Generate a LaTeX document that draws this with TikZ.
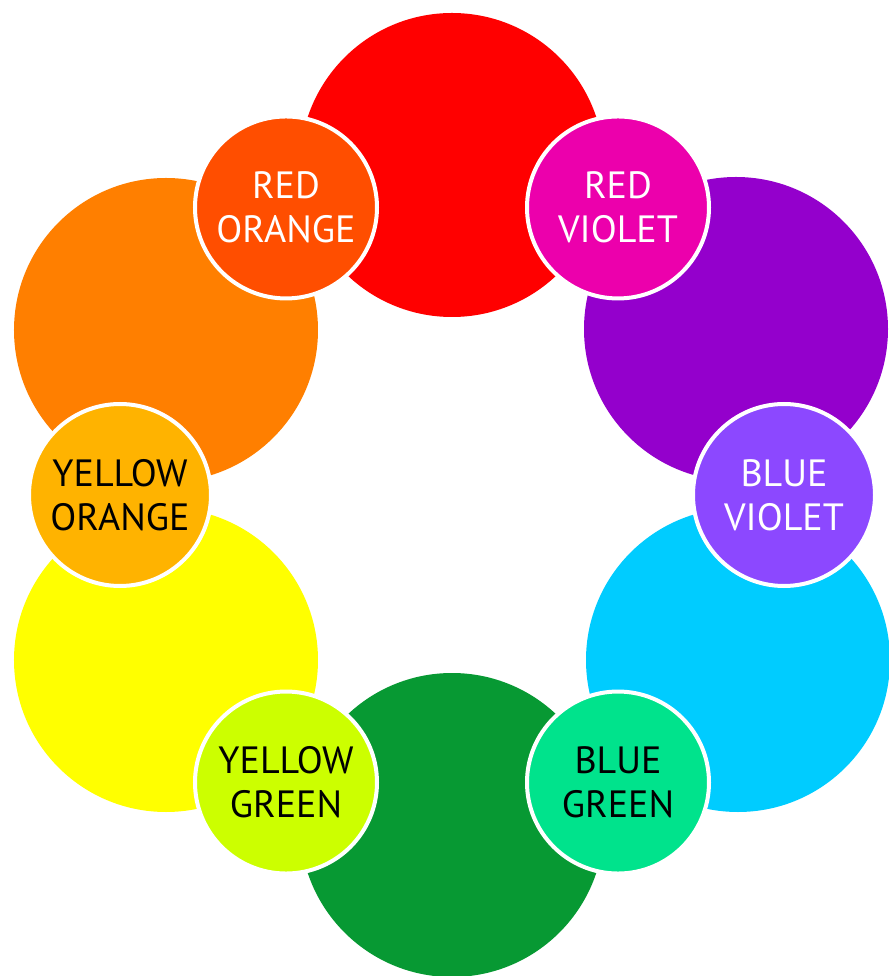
\documentclass[tikz,border=0pt]{standalone}
\usepackage{fontspec}
\setmainfont{PT Sans}
\usepackage{tikz}
\usetikzlibrary{positioning}
\definecolor{cred}{HTML}{FF0000}
\definecolor{corange}{HTML}{FF7F00}
\definecolor{cyellow}{HTML}{FFFF00}
\definecolor{cgreen}{HTML}{079933}
\definecolor{cblue}{HTML}{00CCFF}
\definecolor{cviolet}{HTML}{9400CC}
\definecolor{credorange}{HTML}{FF4E00}
\definecolor{credviolet}{HTML}{EC00AC}
\definecolor{cyelloworange}{HTML}{FFB300}
\definecolor{cblueviolet}{HTML}{8C48FF}
\definecolor{cyellowgreen}{HTML}{CCFF00}
\definecolor{cbluegreen}{HTML}{00E38C}
\tikzset{
  % --- primary / secondary hues ----------------------------------------------
  hue/.style={circle,fill=#1,draw=none,inner sep=0pt,minimum size=304pt},
  % --- tertiary hues, white ring, caption inside ---------------------------
  mix/.style={circle,fill=#1,draw=white,line width=4pt,inner sep=0pt,
              minimum size=182pt,align=center,
              font=\fontsize{38}{44}\selectfont},
  lighttext/.style={text=white},
  darktext/.style={text=black},
}
\begin{document}
\begin{tikzpicture}[x=1pt,y=1pt]
  \useasboundingbox (-452,-481) rectangle (436,495);
  \node[hue=cred]    (red)    at (0,330)     {};
  \node[hue=corange] (orange) at (-286,165)  {};
  \node[hue=cyellow] (yellow) at (-286,-165) {};
  \node[hue=cgreen]  (green)  at (0,-330)    {};
  \node[hue=cblue]   (blue)   at (286,-165)  {};
  \node[hue=cviolet] (violet) at (284,166)   {};

  \node[mix=credorange,lighttext]   (redorange)    at (120:332) {RED\\ORANGE};
  \node[mix=credviolet,lighttext]   (redviolet)    at (60:332)  {RED\\VIOLET};
  \node[mix=cblueviolet,lighttext]  (blueviolet)   at (0:332)   {BLUE\\VIOLET};
  \node[mix=cbluegreen,darktext]    (bluegreen)    at (-60:332) {BLUE\\GREEN};
  \node[mix=cyellowgreen,darktext]  (yellowgreen)  at (-120:332){YELLOW\\GREEN};
  \node[mix=cyelloworange,darktext] (yelloworange) at (180:332) {YELLOW\\ORANGE};
\end{tikzpicture}
\end{document}
